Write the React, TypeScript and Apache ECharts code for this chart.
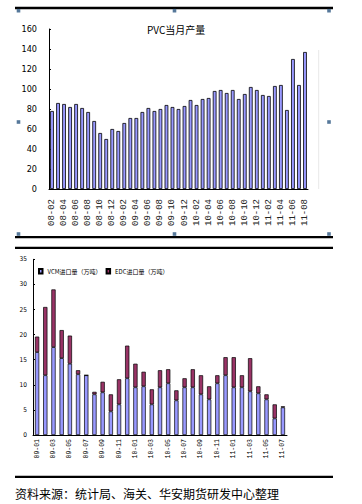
import React, { useEffect, useRef } from "react";
import * as echarts from "echarts";

const pvcMonths = [
  "08-02", "08-03", "08-04", "08-05", "08-06", "08-07", "08-08", "08-09", "08-10", "08-11", "08-12",
  "09-01", "09-02", "09-03", "09-04", "09-05", "09-06", "09-07", "09-08", "09-09", "09-10", "09-11", "09-12",
  "10-01", "10-02", "10-03", "10-04", "10-05", "10-06", "10-07", "10-08", "10-09", "10-10", "10-11", "10-12",
  "11-01", "11-02", "11-03", "11-04", "11-05", "11-06", "11-07", "11-08",
];
const pvcOutput = [
  78, 86, 85, 82, 85, 81, 77, 68, 56, 50, 60,
  58, 66, 71, 71, 77, 81, 78, 80, 84, 82, 80,
  83, 89, 84, 90, 91, 98, 99, 96, 99, 90, 95,
  102, 99, 94, 93, 103, 104, 79, 130, 104, 137,
];

const importMonths = [
  "09-01", "09-02", "09-03", "09-04", "09-05", "09-06", "09-07", "09-08", "09-09", "09-10", "09-11", "09-12",
  "10-01", "10-02", "10-03", "10-04", "10-05", "10-06", "10-07", "10-08", "10-09", "10-10", "10-11", "10-12",
  "11-01", "11-02", "11-03", "11-04", "11-05", "11-06", "11-07",
];
const vcmImport = [
  16.5, 11.9, 17.5, 15.3, 14.2, 12.1, 11.9, 8.1, 8.5, 4.7, 6.1, 11.3,
  9.5, 9.7, 6.1, 9.5, 10.3, 6.9, 9.5, 9.5, 8.1, 7.1, 10.3, 11.9,
  9.5, 9.5, 8.7, 8.3, 7.1, 3.3, 5.5,
];
const edcImport = [
  3.1, 13.6, 11.5, 5.6, 5.6, 0.8, 0, 0.5, 2.1, 3.4, 5.0, 6.5,
  4.7, 2.9, 3.0, 3.4, 2.8, 2.0, 1.8, 3.6, 3.8, 2.6, 1.6, 3.6,
  6.0, 2.4, 6.6, 1.4, 1.0, 2.8, 0.2,
];

const pvcTitle = "PVC当月产量";
const vcmName = "VCM进口量（万吨）";
const edcName = "EDC进口量（万吨）";
const caption = "资料来源：统计局、海关、华安期货研发中心整理";

const NARROW = "'Liberation Sans Narrow', 'DejaVu Sans Condensed', 'Noto Sans CJK SC', sans-serif";
const MONO = "'Liberation Mono', 'DejaVu Sans Mono', monospace";
const CJK = "'Noto Sans CJK SC', 'Liberation Sans Narrow', sans-serif";

export default function App() {
  const ref = useRef<HTMLDivElement>(null);

  useEffect(() => {
    if (!ref.current) return;
    const chart = echarts.init(ref.current, undefined, { renderer: "svg" });

    const handle = (x: number, y: number) => ({
      type: "rect",
      shape: { x: x - 1.8, y: y - 1.8, width: 3.6, height: 3.6 },
      style: { fill: "#56789a" },
      silent: true,
    });
    const hline = (y: number, w: number) => ({
      type: "line",
      shape: { x1: 15, y1: y, x2: 333, y2: y },
      style: { stroke: "#000", lineWidth: w },
      silent: true,
    });

    chart.setOption({
      animation: false,
      backgroundColor: "#fff",
      grid: [
        { left: 49, top: 29, width: 259, height: 160, containLabel: false },
        { left: 33, top: 259.3, width: 254, height: 175.7, containLabel: false },
      ],
      legend: {
        data: [vcmName, edcName],
        left: 38,
        top: 268,
        padding: 0,
        itemWidth: 3.5,
        itemHeight: 4.5,
        itemGap: 4,
        icon: "rect",
        textStyle: { fontSize: 6, fontFamily: CJK, color: "#000" },
      },
      xAxis: [
        {
          type: "category",
          gridIndex: 0,
          data: pvcMonths,
          axisLine: { lineStyle: { color: "#000", width: 1 } },
          axisTick: { inside: true, length: 2, interval: 1, lineStyle: { color: "#000" } },
          axisLabel: {
            interval: 1,
            rotate: 90,
            margin: 10,
            fontSize: 9,
            fontFamily: MONO,
            color: "#222",
          },
        },
        {
          type: "category",
          gridIndex: 1,
          data: importMonths,
          axisLine: { lineStyle: { color: "#000", width: 1 } },
          axisTick: { inside: true, length: 2, interval: 1, lineStyle: { color: "#000" } },
          axisLabel: {
            interval: 1,
            rotate: 90,
            margin: 4,
            fontSize: 6.5,
            fontFamily: MONO,
            color: "#000",
          },
        },
      ],
      yAxis: [
        {
          type: "value",
          gridIndex: 0,
          min: 0,
          max: 160,
          interval: 20,
          axisLine: { show: true, lineStyle: { color: "#000", width: 1 } },
          axisTick: { show: true, inside: true, length: 2, lineStyle: { color: "#000" } },
          splitLine: { show: false },
          axisLabel: { margin: 12, fontSize: 9, fontFamily: NARROW, color: "#000" },
        },
        {
          type: "value",
          gridIndex: 1,
          min: 0,
          max: 35,
          interval: 5,
          axisLine: { show: true, lineStyle: { color: "#000", width: 1 } },
          axisTick: { show: true, inside: true, length: 2, lineStyle: { color: "#000" } },
          splitLine: { show: false },
          axisLabel: { margin: 6, fontSize: 6.5, fontFamily: NARROW, color: "#000" },
        },
      ],
      series: [
        {
          name: pvcTitle,
          type: "bar",
          xAxisIndex: 0,
          yAxisIndex: 0,
          data: pvcOutput,
          barWidth: "62%",
          itemStyle: { color: "#9999ff", borderColor: "#000", borderWidth: 0.8 },
        },
        {
          name: vcmName,
          type: "bar",
          stack: "imp",
          xAxisIndex: 1,
          yAxisIndex: 1,
          data: vcmImport,
          barWidth: "52%",
          itemStyle: { color: "#9999ff", borderColor: "#000", borderWidth: 0.7 },
        },
        {
          name: edcName,
          type: "bar",
          stack: "imp",
          xAxisIndex: 1,
          yAxisIndex: 1,
          data: edcImport,
          barWidth: "52%",
          itemStyle: { color: "#993366", borderColor: "#000", borderWidth: 0.7 },
        },
      ],
      graphic: [
        hline(8, 2.5),
        hline(237.2, 2.3),
        hline(247.8, 2.3),
        hline(476.8, 2.2),
        {
          type: "line",
          shape: { x1: 318.7, y1: 50, x2: 318.7, y2: 189 },
          style: { stroke: "#e8e8e8", lineWidth: 1 },
          silent: true,
        },
        handle(18.5, 10.7),
        handle(174.5, 10.7),
        handle(329, 10.7),
        handle(18.5, 122),
        handle(329, 122),
        handle(18.5, 234),
        handle(174.5, 234),
        handle(329, 234),
        {
          type: "text",
          x: 147,
          y: 29,
          style: {
            text: pvcTitle,
            fontSize: 10,
            fontFamily: CJK,
            fill: "#000",
            align: "left",
            verticalAlign: "middle",
          },
          silent: true,
        },
        {
          type: "text",
          x: 15,
          y: 493,
          style: {
            text: caption,
            fontSize: 12,
            fontFamily: CJK,
            fill: "#000",
            align: "left",
            verticalAlign: "middle",
          },
          silent: true,
        },
      ],
    });

    return () => chart.dispose();
  }, []);

  return (
    <div
      ref={ref}
      style={{ position: "fixed", left: 0, top: 0, width: 362, height: 504, background: "#fff" }}
    />
  );
}
